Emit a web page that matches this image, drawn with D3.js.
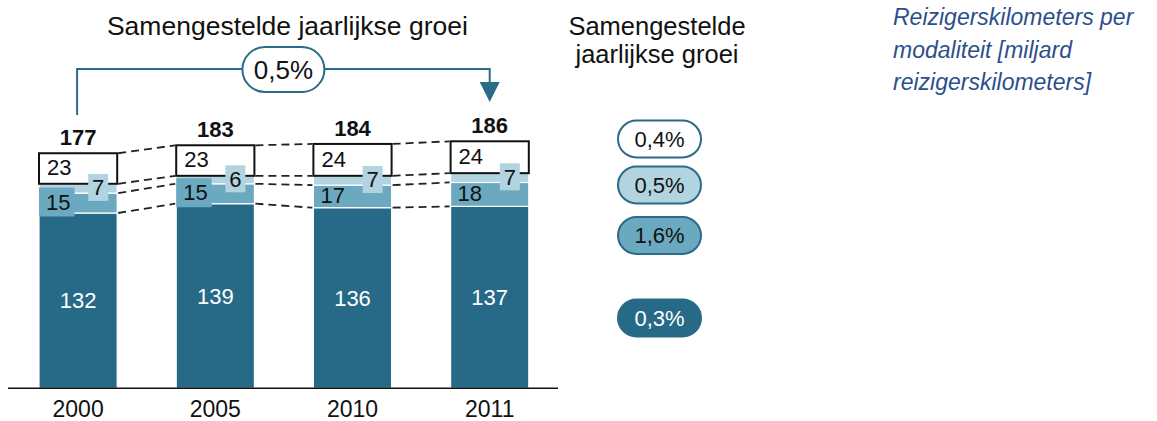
<!DOCTYPE html>
<html>
<head>
<meta charset="utf-8">
<script src="https://cdn.jsdelivr.net/npm/d3@7"></script>
<style>
  html, body { margin: 0; padding: 0; background: #fff; }
  svg { display: block; font-family: "Liberation Sans", Arial, sans-serif; }
</style>
</head>
<body>
<svg id="chart" width="1157" height="421"></svg>
<script>
// ---- data ----
const years = ["2000", "2005", "2010", "2011"];
const darkValues = [132, 139, 136, 137];
const mediumValues = [15, 15, 17, 18];
const lightValues = [7, 6, 7, 7];
const whiteValues = [23, 23, 24, 24];
const totals = [177, 183, 184, 186];
const overallGrowth = "0,5%";
const seriesGrowth = ["0,4%", "0,5%", "1,6%", "0,3%"]; // white, light, medium, dark
const titleText = "Samengestelde jaarlijkse groei";
const sideTitleLines = ["Samengestelde", "jaarlijkse groei"];
const noteLines = ["Reizigerskilometers per", "modaliteit [miljard", "reizigerskilometers]"];

// ---- styles ----
const C = { dark: "#266a87", medium: "#6aa9bf", light: "#b1d4e0", white: "#ffffff", line: "#2a6b88", note: "#2c4f8c" };
const keys = ["dark", "medium", "light", "white"];
const rows = years.map((y, i) => ({ year: y, dark: darkValues[i], medium: mediumValues[i], light: lightValues[i], white: whiteValues[i], total: totals[i] }));

const svg = d3.select("#chart");
const baseY = 388.3;

const x = d3.scaleBand().domain(years).range([9.5, 558.3]).paddingInner(0.43).paddingOuter(0.215);
const y = d3.scaleLinear().domain([0, 200]).range([baseY, baseY - 265.6]);

const stack = d3.stack().keys(keys)(rows);
const byKey = {};
stack.forEach(s => byKey[s.key] = s);

// bars (dark, medium, light)
const g = svg.append("g");
["dark", "medium", "light"].forEach(k => {
  g.selectAll(null).data(byKey[k]).enter().append("rect")
    .attr("x", d => x(d.data.year))
    .attr("width", x.bandwidth())
    .attr("y", d => y(d[1]))
    .attr("height", d => y(d[0]) - y(d[1]))
    .attr("fill", C[k])
    .attr("stroke", "#ffffff")
    .attr("stroke-width", 1.2);
});

// white segment as outlined box
g.selectAll(null).data(byKey.white).enter().append("rect")
  .attr("x", d => x(d.data.year))
  .attr("width", x.bandwidth())
  .attr("y", d => y(d[1]))
  .attr("height", d => y(d[0]) - y(d[1]))
  .attr("fill", "#fff")
  .attr("stroke", "#111")
  .attr("stroke-width", 2);

// dashed connectors
const levels = ["dark", "medium", "light", "white"];
levels.forEach(k => {
  const s = byKey[k];
  for (let i = 0; i < s.length - 1; i++) {
    g.append("line")
      .attr("x1", x(years[i]) + x.bandwidth() + 1)
      .attr("x2", x(years[i + 1]) - 1)
      .attr("y1", y(s[i][1]))
      .attr("y2", y(s[i + 1][1]))
      .attr("stroke", "#222")
      .attr("stroke-width", 1.8)
      .attr("stroke-dasharray", "8,5");
  }
});

// axis
const axis = d3.axisBottom(x).tickSize(0).tickSizeOuter(0).tickPadding(12);
const ax = svg.append("g").attr("transform", `translate(0,${baseY})`).call(axis);
ax.select(".domain").attr("stroke", "#111").attr("stroke-width", 1.5).attr("d", `M8,0H558`);
ax.selectAll("text").attr("font-size", 23).attr("fill", "#111").attr("font-family", "Liberation Sans, Arial, sans-serif");

const numSize = 22;

// medium labels
byKey.medium.forEach(d => {
  const x0 = x(d.data.year);
  const cy = (y(d[0]) + y(d[1])) / 2 - 1;
  const segH = y(d[0]) - y(d[1]);
  const t = svg.append("text").attr("x", x0 + 7).attr("y", cy).attr("dy", "0.35em")
    .attr("font-size", numSize).attr("fill", "#111").text(d.data.medium);
  if (segH < 21) {
    const w = t.node().getComputedTextLength();
    svg.insert("rect", () => t.node())
      .attr("x", x0).attr("y", cy - 14.5).attr("width", w + 11).attr("height", 29)
      .attr("fill", C.medium);
  }
});

// light labels
byKey.light.forEach(d => {
  const cx = x(d.data.year) + x.bandwidth() - 19;
  const cy = (y(d[0]) + y(d[1])) / 2 - 1;
  svg.append("rect").attr("x", cx - 10).attr("y", cy - 13.5).attr("width", 20).attr("height", 27).attr("fill", C.light);
  svg.append("text").attr("x", cx).attr("y", cy).attr("dy", "0.35em").attr("text-anchor", "middle")
    .attr("font-size", numSize).attr("fill", "#111").text(d.data.light);
});

// white box labels
byKey.white.forEach(d => {
  svg.append("text").attr("x", x(d.data.year) + 8).attr("y", (y(d[0]) + y(d[1])) / 2 - 1).attr("dy", "0.35em")
    .attr("font-size", numSize).attr("fill", "#111").text(d.data.white);
});

// dark labels
byKey.dark.forEach(d => {
  svg.append("text").attr("x", x(d.data.year) + x.bandwidth() / 2).attr("y", (y(d[0]) + y(d[1])) / 2).attr("dy", "0.35em")
    .attr("text-anchor", "middle").attr("font-size", numSize).attr("fill", "#fff").text(d.data.dark);
});

// totals
rows.forEach(r => {
  svg.append("text").attr("x", x(r.year) + x.bandwidth() / 2).attr("y", y(r.total) - 8)
    .attr("text-anchor", "middle").attr("font-size", 22).attr("font-weight", "bold").attr("fill", "#111").text(r.total);
});

// top bracket
const xa = x(years[0]) + x.bandwidth() / 2 - 1;
const xb = x(years[years.length - 1]) + x.bandwidth() / 2;
const by = 69;
svg.append("path").attr("d", `M${xa},115V${by}H${xb}V84`).attr("fill", "none").attr("stroke", C.line).attr("stroke-width", 2);
svg.append("path").attr("d", `M${xb - 10},82L${xb + 10},82L${xb},102Z`).attr("fill", C.line);
const pcx = (xa + xb) / 2;
svg.append("rect").attr("x", pcx - 41).attr("y", by - 22).attr("width", 82).attr("height", 45).attr("rx", 22.5)
  .attr("fill", "#fff").attr("stroke", C.line).attr("stroke-width", 2);
svg.append("text").attr("x", pcx).attr("y", by + 1).attr("dy", "0.35em").attr("text-anchor", "middle")
  .attr("font-size", 26).attr("fill", "#111").text(overallGrowth);
svg.append("text").attr("x", pcx + 4).attr("y", 35).attr("text-anchor", "middle")
  .attr("font-size", 26.5).attr("fill", "#111").text(titleText);

// side title
sideTitleLines.forEach((l, i) => {
  svg.append("text").attr("x", 657).attr("y", 35 + i * 28).attr("text-anchor", "middle")
    .attr("font-size", 25.5).attr("fill", "#111").text(l);
});

// growth pills per series
const pillCY = [139, 185, 235.5, 318];
const pillFill = [C.white, C.light, C.medium, C.dark];
const pillText = ["#111", "#111", "#111", "#fff"];
seriesGrowth.forEach((v, i) => {
  svg.append("rect").attr("x", 618).attr("y", pillCY[i] - 18.5).attr("width", 83).attr("height", 37).attr("rx", 18.5)
    .attr("fill", pillFill[i]).attr("stroke", C.line).attr("stroke-width", 2);
  svg.append("text").attr("x", 659.5).attr("y", pillCY[i]).attr("dy", "0.35em").attr("text-anchor", "middle")
    .attr("font-size", 22).attr("fill", pillText[i]).text(v);
});

// note
noteLines.forEach((l, i) => {
  svg.append("text").attr("x", 893).attr("y", 25 + i * 32.5)
    .attr("font-size", 23).attr("font-style", "italic").attr("fill", C.note).text(l);
});
</script>
</body>
</html>
